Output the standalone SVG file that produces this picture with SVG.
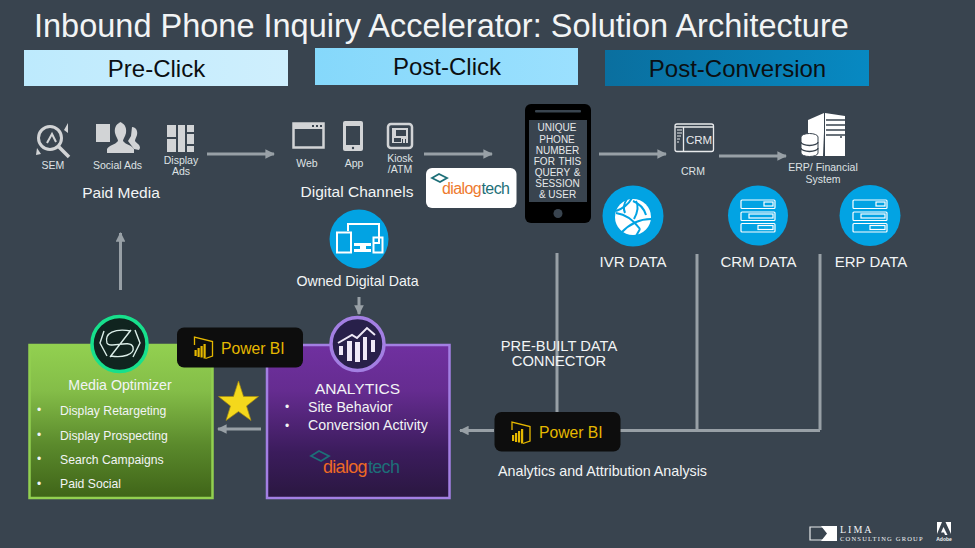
<svg xmlns="http://www.w3.org/2000/svg" width="975" height="548" viewBox="0 0 975 548">
<style>
text{font-family:"Liberation Sans",Arial,sans-serif;fill:#f2f4f5}
.m{text-anchor:middle}
.hd{font-size:24px;fill:#0b0f12;text-anchor:middle}
.sm{font-size:10.5px;fill:#dfe2e4;text-anchor:middle}
.lb{font-size:15px;text-anchor:middle}
.l14{font-size:14.2px}
.li{font-size:12.2px}
.bu{font-size:12px}
.ph{font-size:10px;fill:#e6e8ea;text-anchor:middle}
.ic{fill:#d2d4d6}
.il{fill:none;stroke:#d2d4d6;stroke-width:2.5}
.w{fill:#fff}
.wl{fill:none;stroke:#fff;stroke-width:2}
.cn{fill:none;stroke:#98a0a6;stroke-width:3}
.pb{fill:#0d0d0d}
.pt{font-size:15.7px;fill:#e6b800}
.blue{fill:#02a3e3}
.dl{fill:#ee7a2e}
.dk{fill:#1d6f78}
.d1{font-size:16px;letter-spacing:-.6px}
.d2{font-size:18px;letter-spacing:-.7px}
</style>
<defs>
<marker id="ah" viewBox="0 0 10 10" refX="9" refY="5" markerWidth="3.2" markerHeight="3.2" orient="auto-start-reverse" markerUnits="strokeWidth"><path d="M0 0L10 5L0 10Z" fill="#98a0a6"/></marker>
<linearGradient id="g1" x1="0" y1="0" x2="1" y2="0"><stop offset="0" stop-color="#bdeafd"/><stop offset="1" stop-color="#cfeffd"/></linearGradient>
<linearGradient id="g2" x1="0" y1="0" x2="1" y2="0"><stop offset="0" stop-color="#85d8fb"/><stop offset="1" stop-color="#9be0fe"/></linearGradient>
<linearGradient id="g3" x1="0" y1="0" x2="1" y2="0"><stop offset="0" stop-color="#0a6f9f"/><stop offset="1" stop-color="#0789c2"/></linearGradient>
<linearGradient id="gg" x1="0" y1="0" x2="0" y2="1"><stop offset="0" stop-color="#92d050"/><stop offset=".3" stop-color="#84bd48"/><stop offset=".65" stop-color="#5b8a2c"/><stop offset="1" stop-color="#3f6418"/></linearGradient>
<linearGradient id="gp" x1="0" y1="0" x2="0" y2="1"><stop offset="0" stop-color="#7030a0"/><stop offset=".3" stop-color="#652c90"/><stop offset=".7" stop-color="#3b1c5c"/><stop offset="1" stop-color="#2a1740"/></linearGradient>
<g id="pbi"><path d="M1 9V1L19 5.500V20L12 22.500" fill="none" stroke="#e6b800" stroke-width="1.300"/><path d="M1 14h2.200v6H1zM4 12h2.200v9H4zM7 10h2.200v11.500H7zM10 8h2.200v14.500H10z" fill="#e6b800"/></g>
<g id="srv" fill="none" stroke="#fff" stroke-width="1.200"><rect x="-17" y="-16" width="34" height="8.500" rx="1"/><rect x="-17" y="-4" width="34" height="8.500" rx="1"/><rect x="-17" y="7.500" width="34" height="8.500" rx="1"/><rect x="6" y="-14" width="9" height="4"/><rect x="-9" y="-2" width="24" height="4"/><rect x="0" y="9.500" width="15" height="4"/></g>
</defs>
<rect width="975" height="548" fill="#39444f"/>
<text id="title" x="34" y="37" style="font-size:32.5px">Inbound Phone Inquiry Accelerator: Solution Architecture</text>
<g id="pre-click"><rect x="24" y="50" width="264" height="36" fill="url(#g1)"/><text class="hd" x="156.500" y="77">Pre-Click</text></g>
<g id="post-click"><rect x="315" y="48" width="263" height="37" fill="url(#g2)"/><text class="hd" x="447" y="75">Post-Click</text></g>
<g id="post-conversion"><rect x="605" y="50" width="264" height="36" fill="url(#g3)"/><text class="hd" x="737.500" y="77">Post-Conversion</text></g>

<g id="connectors">
<path class="cn" d="M207 154H274" marker-end="url(#ah)"/>
<path class="cn" d="M424 154H492" marker-end="url(#ah)"/>
<path class="cn" d="M599 154H666" marker-end="url(#ah)"/>
<path class="cn" d="M719 156H786" marker-end="url(#ah)"/>
<path class="cn" d="M120.500 290V233" marker-end="url(#ah)"/>
<path class="cn" d="M359 297V314" marker-end="url(#ah)"/>
<path class="cn" d="M261 429H218" marker-end="url(#ah)"/>
<path class="cn" d="M557 253V412"/>
<path class="cn" d="M697 254V430"/>
<path class="cn" d="M820 254V430"/>
<path class="cn" d="M820 430.500H620"/>
<path class="cn" d="M494 430.500H460" marker-end="url(#ah)"/>
</g>

<g id="sem"><circle class="il" cx="50" cy="138" r="11.500" style="stroke-width:3"/><path class="il" d="M47 143l5-9 4 8" style="stroke-width:2"/><path class="il" d="M58 146l11 11" style="stroke-width:3.500"/><path class="ic" d="M37 148l4 6-5 1zM64 130l4-7 0 10z"/><text class="sm" x="53" y="169">SEM</text></g>
<g id="social-ads"><rect class="ic" x="96" y="124" width="14" height="18"/><path class="ic" d="M118 122c6 0 9 5 8 11-1 4-3 6-3 8 3 4 9 4 11 8v4h-27v-4c2-4 8-4 11-8 0-2-2-4-3-8-1-6 2-11 8-11z"/><path class="ic" d="M132 127c4 0 6 4 5 8-1 3-2 4-2 6 2 3 5 3 5 7l-1 2-5-1-6-8 3-5z"/><text class="sm" x="117.500" y="169">Social Ads</text></g>
<g id="display-ads"><path class="ic" d="M167 125h9v12h-9zM178 125h7v27h-7zM187 125h7v7h-7zM187 134h7v10h-7zM187 146h7v6h-7zM167 139h9v13h-9z"/><text class="sm" x="181" y="164">Display</text><text class="sm" x="181" y="175">Ads</text></g>
<text id="paid-media" x="121" y="198" class="m" style="font-size:15.5px">Paid Media</text>

<g id="web"><rect x="293.500" y="123.500" width="30" height="24" fill="none" stroke="#d2d4d6" stroke-width="2.500"/><rect class="ic" x="293" y="123" width="31" height="6"/><path d="M312 125h2v2h-2zM316 125h2v2h-2zM320 125h2v2h-2z" fill="#39444f"/><text class="sm" x="307" y="167">Web</text></g>
<g id="app"><rect class="ic" x="343" y="121" width="20" height="30" rx="2"/><rect x="346" y="126" width="14" height="19" fill="#39444f"/><circle cx="353" cy="148" r="1.200" fill="#39444f"/><text class="sm" x="354" y="167">App</text></g>
<g id="kiosk"><rect x="388" y="124" width="24" height="24" rx="3" fill="none" stroke="#d2d4d6" stroke-width="2.500"/><path class="ic" d="M392 128h16v15h-16z"/><path d="M396 130h10v6h-10zM394 142v-4h7v4zM402 139h1v4h-1zM405 139h1v4h-1z" fill="#39444f"/><text class="sm" x="400" y="162">Kiosk</text><text class="sm" x="400" y="173">/ATM</text></g>
<text id="digital-channels" x="357" y="197" class="m" style="font-size:15.5px">Digital Channels</text>

<g id="dialogtech-badge"><rect x="426" y="168" width="90.500" height="40" rx="6" fill="#fff"/><path d="M432 178l7-4 8 4-7 4z" fill="none" stroke="#1d6f78" stroke-width="1.800"/><text class="dl d1" x="442" y="194">dialog</text><text class="dk d1" x="481.500" y="194">tech</text></g>

<g id="owned-digital-data"><circle class="blue" cx="359" cy="239" r="29.500"/><path class="wl" d="M348 231v-7h31v19h-6"/><rect x="337" y="232.500" width="14" height="20" class="wl"/><rect x="373.500" y="237.500" width="9" height="15" class="wl"/><path class="w" d="M354 243h17v3h-5v3h5v3h-17v-3h6v-3h-6z"/><text class="l14 m" x="357.500" y="286">Owned Digital Data</text></g>

<g id="phone"><rect x="525" y="104" width="66" height="119" rx="6" fill="#000"/><rect x="535" y="110" width="46" height="2.500" rx="1" fill="#39444f"/><rect x="529" y="120" width="58" height="82" fill="#39444f"/><circle cx="558" cy="213.500" r="4.500" fill="#39444f"/>
<text class="ph" x="557" y="131">UNIQUE</text><text class="ph" x="557" y="142.500">PHONE</text><text class="ph" x="557.500" y="153.500">NUMBER</text><text class="ph" x="557.500" y="165" style="word-spacing:1px">FOR THIS</text><text class="ph" x="557.500" y="175.500" style="word-spacing:1px">QUERY &amp;</text><text class="ph" x="557.500" y="186.500">SESSION</text><text class="ph" x="557.500" y="197.500">&amp; USER</text></g>

<g id="crm"><rect x="675" y="124" width="38.500" height="27.500" rx="2" fill="none" stroke="#e8eaec" stroke-width="1.300"/><path d="M675 127h38M683.500 127v24" fill="none" stroke="#e8eaec" stroke-width="1.300"/><path d="M677 130h5M677 133h5M677 136h4M677 139h3M677 142h2" stroke="#e8eaec" stroke-width="1"/><text x="686" y="144" style="font-size:11.5px;fill:#e8eaec">CRM</text><text class="sm" x="693" y="174.500">CRM</text></g>
<g id="erp"><path class="w" d="M808 120l16-7v19l-1 24h-15z"/><path class="w" d="M825 113l20 3v40h-20z"/><path d="M826 120h19M826 125h19M826 130h19M826 135h19" stroke="#39444f" stroke-width="1.500"/><circle cx="841" cy="137" r="1" fill="#39444f"/><path class="w" d="M801 137a8.500 3.500 0 0 1 17 0v16a8.500 3.500 0 0 1-17 0z" stroke="#39444f" stroke-width="1"/><path d="M801 142a8.500 3.500 0 0 0 17 0M801 148a8.500 3.500 0 0 0 17 0" fill="none" stroke="#39444f" stroke-width="1.300"/><text class="sm" x="823" y="171">ERP/ Financial</text><text class="sm" x="823" y="182.500">System</text></g>

<g id="ivr-data"><circle class="blue" cx="633" cy="216" r="30.500"/><circle class="w" cx="633" cy="217" r="18"/><path d="M616 211Q627 207 632 198M616 213Q630 215 640 229M621 233Q634 219 651 219M627 199Q622 206 625 213M640 229L636 236M633 201Q643 205 646 215M636 201Q640 208 634 219" fill="none" stroke="#02a3e3" stroke-width="2"/><text class="lb" x="633" y="267">IVR DATA</text></g>
<g id="crm-data"><circle class="blue" cx="758" cy="215.500" r="30"/><use href="#srv" x="758" y="216"/><text class="lb" x="758.500" y="267">CRM DATA</text></g>
<g id="erp-data"><circle class="blue" cx="870" cy="215.500" r="30.500"/><use href="#srv" x="870" y="216"/><text class="lb" x="871" y="267">ERP DATA</text></g>

<text id="pre-built" class="m" style="font-size:14.7px"><tspan x="559" y="351">PRE-BUILT DATA</tspan><tspan x="559" y="366">CONNECTOR</tspan></text>

<g id="powerbi-attribution"><rect class="pb" x="494.500" y="412" width="126" height="39.500" rx="7"/><use href="#pbi" x="511" y="421"/><text class="pt" x="539" y="438">Power BI</text></g>
<text id="attribution-label" x="498" y="476" style="font-size:14.3px">Analytics and Attribution Analysis</text>

<g id="media-optimizer"><rect x="29.500" y="345" width="183" height="153" fill="url(#gg)" stroke="#92d050" stroke-width="2.500"/>
<circle cx="119.500" cy="344" r="27.500" fill="#10241f" stroke="#17e08c" stroke-width="3.500"/>
<path d="M104 331l-4 12 7 13M135 330l5 13-7 14M131 331C115 328 104 333 107 343C110 349 130 339 133 347C135 355 122 358 111 356M110 357L131 330" fill="none" stroke="#dbeee8" stroke-width="1.400"/>
<text class="l14 m" x="120" y="390">Media Optimizer</text>
<g><text x="37" y="414" class="bu">•</text><text x="60" y="415" class="li">Display Retargeting</text><text x="37" y="438.500" class="bu">•</text><text x="60" y="439.500" class="li">Display Prospecting</text><text x="37" y="463" class="bu">•</text><text x="60" y="463.500" class="li">Search Campaigns</text><text x="37" y="487.500" class="bu">•</text><text x="60" y="488" class="li">Paid Social</text></g></g>

<g id="analytics"><rect x="267" y="345" width="182.500" height="153" fill="url(#gp)" stroke="#a37fe3" stroke-width="2.500"/>
<circle cx="357.500" cy="344" r="26.500" fill="#28204a" stroke="#a37fe3" stroke-width="3.500"/>
<path d="M339 346h4v9h-4zM347 341h5v20h-5zM355 342h5v20h-5zM363 337h4v23h-4zM371 340h4v12h-4z" fill="#efe9f7"/><path d="M338 343l14-8 5 3 10-10 8 7" fill="none" stroke="#efe9f7" stroke-width="2"/>
<text class="m" x="357.500" y="394" style="font-size:15.5px">ANALYTICS</text>
<text x="285" y="411" class="bu">•</text><text x="308" y="411.500" class="l14">Site Behavior</text>
<text x="285" y="429.500" class="bu">•</text><text x="308" y="430" class="l14">Conversion Activity</text>
<path d="M311 456l8-5 10 5-8 5z" fill="none" stroke="#1d6f78" stroke-width="1.800"/><text x="323" y="473" class="d2" style="fill:#ee6a24">dialog</text><text x="368" y="473" class="dk d2">tech</text></g>

<g id="powerbi-optimizer"><rect class="pb" x="177" y="327.500" width="126" height="40" rx="7"/><use href="#pbi" x="193.500" y="336"/><text class="pt" x="221" y="354">Power BI</text></g>
<path id="star" d="M238.500 381l5 15.500h15l-12 9.500 4.500 14.500-12.500-9-12.500 9 4.500-14.500-12-9.500h15z" fill="#f4d81c" stroke="#a88d10" stroke-width=".7"/>

<g id="lima-logo"><path d="M810 527h14l6 6-6 7h-14z" fill="none" stroke="#e8eaec" stroke-width="1.200"/><path d="M821 526h16v15h-16l6-7.500z" fill="#fff"/><text x="840" y="532.500" style="font-size:10px;font-family:'Liberation Serif',serif;letter-spacing:2px">LIMA</text><text x="840" y="540.500" style="font-size:6.5px;font-family:'Liberation Serif',serif;letter-spacing:1.200px">CONSULTING GROUP</text></g>
<g id="adobe-logo"><path d="M937 522h5l-5 12zM945.500 522h5.500v12zM943.500 527l4 8h-2.500l-1-2.500h-3z" fill="#fff"/><text x="944" y="541" class="m" style="font-size:5px;font-weight:bold">Adobe</text></g>
</svg>
